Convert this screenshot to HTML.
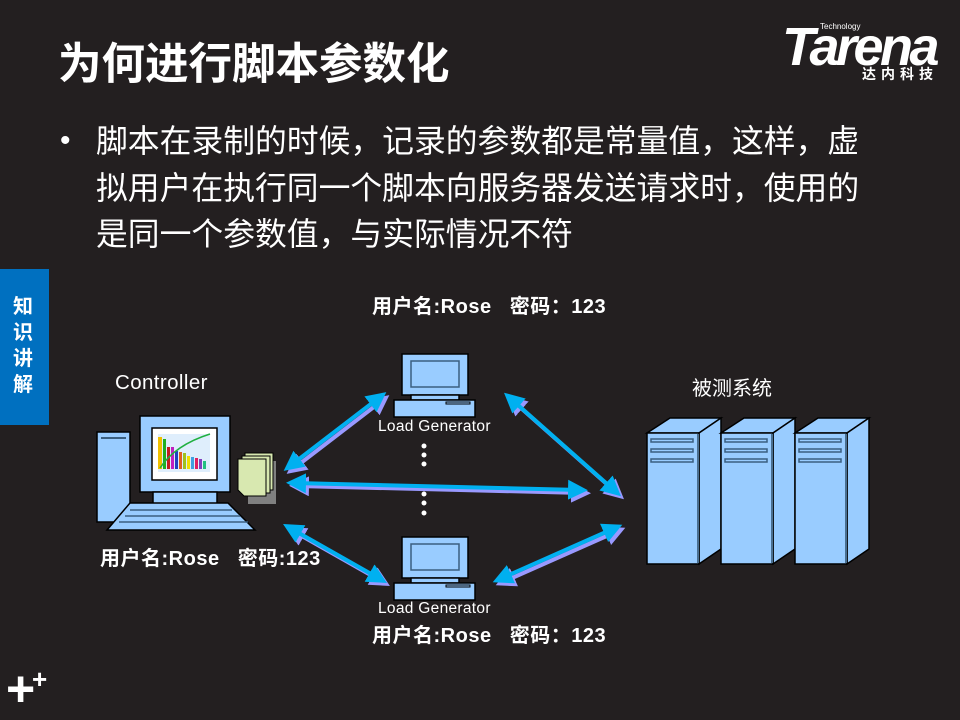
<!DOCTYPE html>
<html><head><meta charset="utf-8"><style>
html,body{margin:0;padding:0;background:#231f20;width:960px;height:720px;overflow:hidden;font-family:"Liberation Sans","Noto Sans CJK SC",sans-serif;}
.a{position:absolute;color:#fff;white-space:nowrap;}
</style></head><body>
<div class="a" style="left:58px;top:37px;font-size:43.5px;font-weight:bold;line-height:56px;">为何进行脚本参数化</div>
<div class="a" style="left:60px;top:118px;font-size:30px;line-height:46px;">•</div>
<div class="a" style="left:96px;top:118px;font-size:31.8px;line-height:46.5px;">脚本在录制的时候，记录的参数都是常量值，这样，虚<br>拟用户在执行同一个脚本向服务器发送请求时，使用的<br>是同一个参数值，与实际情况不符</div>
<div class="a" style="left:782px;top:20px;font-size:54px;font-weight:bold;font-style:italic;letter-spacing:-3.5px;line-height:54px;">Tarena</div>
<div class="a" style="left:820px;top:22px;font-size:8px;">Technology</div>
<div class="a" style="left:862px;top:64px;font-size:14px;font-weight:bold;letter-spacing:5px;">达内科技</div>
<div style="position:absolute;left:0;top:269px;width:49px;height:156px;background:#0070c0;"></div>
<div class="a" style="left:13px;top:294px;font-size:20px;font-weight:bold;line-height:26px;white-space:normal;width:24px;">知识讲解</div>
<div class="a" style="left:6px;top:664px;font-size:50px;font-weight:bold;line-height:50px;">+</div>
<div class="a" style="left:32px;top:666px;font-size:26px;font-weight:bold;line-height:26px;">+</div>

<svg width="960" height="720" style="position:absolute;left:0;top:0">
<defs>
<marker id="c" markerWidth="5" markerHeight="5" refX="3" refY="2.5" orient="auto-start-reverse" markerUnits="strokeWidth"><path d="M0,0L5,2.5L0,5Z" fill="#00b0f0"/></marker>
<marker id="p" markerWidth="5" markerHeight="5" refX="3" refY="2.5" orient="auto-start-reverse" markerUnits="strokeWidth"><path d="M0,0L5,2.5L0,5Z" fill="#9999ff"/></marker>
</defs>
<g stroke-width="4" fill="none">
<g stroke="#9999ff" marker-start="url(#p)" marker-end="url(#p)" transform="translate(3,3)">
<line x1="290" y1="466" x2="380" y2="397"/>
<line x1="294" y1="483" x2="580" y2="490"/>
<line x1="290" y1="528" x2="380" y2="579"/>
<line x1="510" y1="398" x2="615" y2="491"/>
<line x1="500" y1="579" x2="615" y2="528"/>
</g>
<g stroke="#00b0f0" marker-start="url(#c)" marker-end="url(#c)">
<line x1="290" y1="466" x2="380" y2="397"/>
<line x1="294" y1="483" x2="580" y2="490"/>
<line x1="290" y1="528" x2="380" y2="579"/>
<line x1="510" y1="398" x2="615" y2="491"/>
<line x1="500" y1="579" x2="615" y2="528"/>
</g></g>
<g stroke="#000" stroke-width="1.5" fill="#99ccff">
<rect x="97" y="432" width="33" height="90"/>
<line x1="101" y1="438" x2="126" y2="438" stroke="#3a5f80" stroke-width="2"/>
<rect x="140" y="416" width="90" height="76"/>
<rect x="153" y="492" width="64" height="12"/>
<path d="M130,503 L228,503 L255,530 L107,530 Z"/>
<path d="M130,510L232,510M125,516L240,516M119,522L248,522" stroke="#3a5f80"/>
<rect x="152" y="428" width="65" height="52" fill="#fff"/>
<rect x="402" y="354" width="66" height="41"/>
<rect x="411" y="361" width="48" height="26" stroke="#3a5f80"/>
<rect x="411" y="395" width="48" height="5"/>
<rect x="394" y="400" width="81" height="17"/>
<rect x="446" y="402" width="24" height="2" stroke-width="1"/>
<rect x="402" y="537" width="66" height="41"/>
<rect x="411" y="544" width="48" height="26" stroke="#3a5f80"/>
<rect x="411" y="578" width="48" height="5"/>
<rect x="394" y="583" width="81" height="17"/>
<rect x="446" y="585" width="24" height="2" stroke-width="1"/>
<g id="s"><path d="M647,433 L670,418 L721,418 L699,433 Z"/><path d="M699,433 L721,418 L721,549 L699,564 Z"/><rect x="647" y="433" width="52" height="131"/>
<line x1="698" y1="434" x2="698" y2="563" stroke="#4a6f90" stroke-width="2"/>
<rect x="651" y="439" width="42" height="3" stroke="#3a5f80"/><rect x="651" y="449" width="42" height="3" stroke="#3a5f80"/><rect x="651" y="459" width="42" height="3" stroke="#3a5f80"/></g>
<use href="#s" x="74"/><use href="#s" x="148"/>
</g>
<g>
<rect x="158" y="434" width="52" height="38" fill="#dfeefc"/>
<rect x="158" y="437" width="4" height="32" fill="#f0c000"/><rect x="163" y="439" width="3" height="30" fill="#20b020"/>
<rect x="167" y="447" width="3" height="22" fill="#c02020"/><rect x="171" y="447" width="3" height="22" fill="#c020c0"/>
<rect x="175" y="451" width="3" height="18" fill="#2040c0"/><rect x="179" y="452" width="3" height="17" fill="#e06020"/>
<rect x="183" y="453" width="3" height="16" fill="#a0c020"/><rect x="187" y="456" width="3" height="13" fill="#f0e000"/>
<rect x="191" y="457" width="3" height="12" fill="#40a0e0"/><rect x="195" y="458" width="3" height="11" fill="#e02060"/>
<rect x="199" y="459" width="3" height="10" fill="#8040c0"/><rect x="203" y="461" width="3" height="8" fill="#20c080"/>
<path d="M160,468 Q175,445 210,434" stroke="#20b040" stroke-width="1.5" fill="none"/>
</g>
<rect x="248" y="461" width="28" height="43" fill="#808080"/>
<rect x="245" y="453" width="28" height="37" fill="#d8e8b0" stroke="#000"/>
<rect x="242" y="456" width="28" height="37" fill="#d8e8b0" stroke="#000"/>
<path d="M238,459 L266,459 L266,496 L244,496 L238,490 Z" fill="#d8e8b0" stroke="#000"/>
<g fill="#fff"><circle cx="424" cy="446" r="2.5"/><circle cx="424" cy="455" r="2.5"/><circle cx="424" cy="464" r="2.5"/><circle cx="424" cy="494" r="2.5"/><circle cx="424" cy="503" r="2.5"/><circle cx="424" cy="513" r="2.5"/></g>
</svg>
<div class="a" style="left:115px;top:371px;font-size:20.5px;letter-spacing:0.4px;">Controller</div>
<div class="a" style="left:692px;top:372px;font-size:20px;">被测系统</div>
<div class="a" style="left:378px;top:418px;font-size:15.5px;letter-spacing:0.3px;">Load Generator</div>
<div class="a" style="left:378px;top:600px;font-size:15.5px;letter-spacing:0.3px;">Load Generator</div>
<div class="a" style="left:372px;top:290px;font-size:20px;font-weight:bold;letter-spacing:0.5px;">用户名:Rose&nbsp;&nbsp;&nbsp;密码：123</div>
<div class="a" style="left:100px;top:542px;font-size:20px;font-weight:bold;letter-spacing:0.5px;">用户名:Rose&nbsp;&nbsp;&nbsp;密码:123</div>
<div class="a" style="left:372px;top:619px;font-size:20px;font-weight:bold;letter-spacing:0.5px;">用户名:Rose&nbsp;&nbsp;&nbsp;密码：123</div>
</body></html>
